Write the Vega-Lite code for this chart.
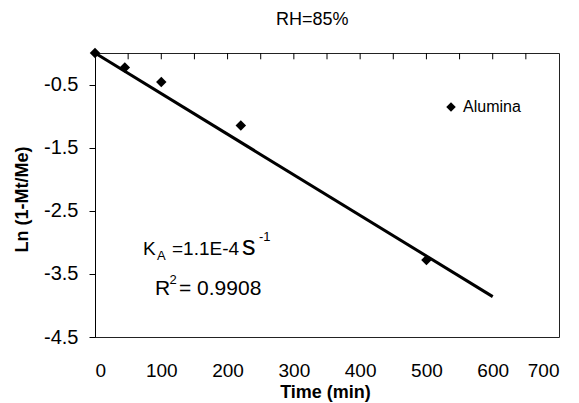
{
  "$schema": "https://vega.github.io/schema/vega-lite/v6.json",
  "width": 464,
  "height": 284,
  "autosize": {"type": "none"},
  "padding": {"left": 95, "top": 53, "right": 20, "bottom": 66},
  "background": "white",
  "config": {
    "font": "Liberation Sans",
    "view": {"stroke": "#222", "strokeWidth": 1},
    "axis": {"grid": false, "labelFont": "Liberation Sans", "titleFont": "Liberation Sans", "domainColor": "black", "tickColor": "black", "labelColor": "black", "titleColor": "black"}
  },
  "datasets": {
    "points": [
      {"time": 0, "ln": 0, "series": "Alumina"},
      {"time": 45, "ln": -0.23, "series": "Alumina"},
      {"time": 100, "ln": -0.46, "series": "Alumina"},
      {"time": 220, "ln": -1.15, "series": "Alumina"},
      {"time": 500, "ln": -3.28, "series": "Alumina"}
    ],
    "fit": [
      {"time": 0, "ln": 0},
      {"time": 600, "ln": -3.86}
    ],
    "topTicks": [
      {"time": 50}, {"time": 100}, {"time": 150}, {"time": 200}, {"time": 250}, {"time": 300}, {"time": 350},
      {"time": 400}, {"time": 450}, {"time": 500}, {"time": 550}, {"time": 600}, {"time": 650}
    ],
    "kText": [
      {"time": 72.4, "ln": -3.2, "t": "K"},
      {"time": 116.2, "ln": -3.2, "t": "=1.1E-4"}
    ],
    "rText": [
      {"time": 90.5, "ln": -3.835, "t": "R"},
      {"time": 126.7, "ln": -3.835, "t": "= 0.9908"}
    ],
    "smallText": [
      {"time": 93.5, "ln": -3.28, "t": "A"},
      {"time": 247.4, "ln": -2.98, "t": "-1"},
      {"time": 112.5, "ln": -3.66, "t": "2"}
    ],
    "bigText": [
      {"time": 221.8, "ln": -3.2, "t": "s"}
    ]
  },
  "layer": [
    {
      "data": {"name": "points"},
      "mark": {"type": "point", "filled": true, "opacity": 1, "color": "black", "size": 110},
      "encoding": {
        "x": {
          "field": "time", "type": "quantitative",
          "scale": {"domain": [0, 700], "nice": false},
          "axis": {"orient": "bottom", "values": [0, 100, 200, 300, 400, 500, 600, 700], "domain": false, "ticks": false, "labelPadding": 24, "labelFontSize": 19, "labelOverlap": false, "labelExpr": "'' + datum.value", "title": "Time (min)", "titleFontSize": 18, "titleFontWeight": "bold", "titleX": 230, "titleY": 60, "titleBaseline": "alphabetic"}
        },
        "y": {
          "field": "ln", "type": "quantitative",
          "scale": {"domain": [-4.5, 0], "nice": false},
          "axis": {"values": [0, -0.25, -0.5, -0.75, -1, -1.25, -1.5, -1.75, -2, -2.25, -2.5, -2.75, -3, -3.25, -3.5, -3.75, -4, -4.25, -4.5], "tickSize": 6, "labelPadding": 11, "labelFontSize": 20, "labelOverlap": false, "labelExpr": "abs(datum.value * 2 - round(datum.value * 2)) < 0.01 ? '' + datum.value : ''", "title": "Ln (1-Mt/Me)", "titleFontSize": 18, "titleFontWeight": "bold", "titleX": -64, "titleY": 146}
        },
        "shape": {
          "field": "series", "type": "nominal",
          "scale": {"domain": ["Alumina"], "range": ["diamond"]},
          "legend": {"title": null, "orient": "none", "legendX": 348, "legendY": 46, "labelFontSize": 16, "symbolSize": 90, "symbolFillColor": "black", "symbolStrokeColor": "black", "labelColor": "black", "labelFont": "Liberation Sans"}
        }
      }
    },
    {
      "data": {"name": "topTicks"},
      "mark": {"type": "rule", "color": "black", "strokeWidth": 1},
      "encoding": {
        "x": {"field": "time", "type": "quantitative"},
        "y": {"datum": 0},
        "y2": {"datum": -0.1}
      }
    },
    {
      "data": {"name": "fit"},
      "mark": {"type": "line", "color": "black", "strokeWidth": 3},
      "encoding": {
        "x": {"field": "time", "type": "quantitative"},
        "y": {"field": "ln", "type": "quantitative"}
      }
    },
    {
      "data": {"name": "kText"},
      "mark": {"type": "text", "align": "left", "baseline": "alphabetic", "fontSize": 19, "color": "black"},
      "encoding": {
        "x": {"field": "time", "type": "quantitative"},
        "y": {"field": "ln", "type": "quantitative"},
        "text": {"field": "t"}
      }
    },
    {
      "data": {"name": "rText"},
      "mark": {"type": "text", "align": "left", "baseline": "alphabetic", "fontSize": 21, "color": "black"},
      "encoding": {
        "x": {"field": "time", "type": "quantitative"},
        "y": {"field": "ln", "type": "quantitative"},
        "text": {"field": "t"}
      }
    },
    {
      "data": {"name": "smallText"},
      "mark": {"type": "text", "align": "left", "baseline": "alphabetic", "fontSize": 13, "color": "black"},
      "encoding": {
        "x": {"field": "time", "type": "quantitative"},
        "y": {"field": "ln", "type": "quantitative"},
        "text": {"field": "t"}
      }
    },
    {
      "data": {"name": "bigText"},
      "mark": {"type": "text", "align": "left", "baseline": "alphabetic", "fontSize": 27, "color": "black"},
      "encoding": {
        "x": {"field": "time", "type": "quantitative"},
        "y": {"field": "ln", "type": "quantitative"},
        "text": {"field": "t"}
      }
    }
  ],
  "title": {"text": "RH=85%", "frame": "group", "fontSize": 18, "fontWeight": "normal", "anchor": "start", "dx": 181, "offset": 18, "color": "black", "font": "Liberation Sans"}
}
